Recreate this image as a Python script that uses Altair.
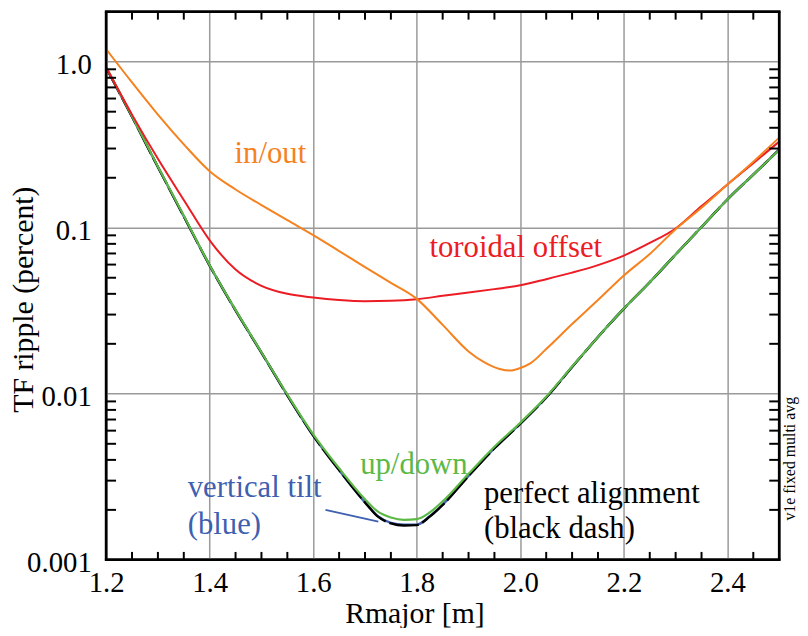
import altair as alt
import pandas as pd

# ---------------- data ----------------
r_fine = [1.20, 1.25, 1.30, 1.35, 1.40, 1.45, 1.50, 1.55, 1.60, 1.65, 1.70, 1.725,
          1.75, 1.775, 1.80, 1.825, 1.85, 1.90, 1.95, 2.00, 2.05, 2.10, 2.15, 2.20,
          2.25, 2.30, 2.35, 2.40, 2.45, 2.50]
perfect = [0.92, 0.466, 0.232, 0.117, 0.0592, 0.0318, 0.0177, 0.0098, 0.0056, 0.00347,
           0.00222, 0.00182, 0.00166, 0.00161, 0.00162, 0.00182, 0.00214, 0.0032, 0.0047,
           0.0066, 0.0095, 0.0145, 0.022, 0.0326, 0.047, 0.069, 0.101, 0.148, 0.209, 0.295]
vertical_tilt = [0.92, 0.466, 0.232, 0.117, 0.0592, 0.0318, 0.0177, 0.0098, 0.0056, 0.00347,
                 0.00222, 0.00183, 0.00167, 0.00163, 0.00163, 0.00183, 0.00215, 0.0032, 0.0047,
                 0.0066, 0.0095, 0.0145, 0.022, 0.0326, 0.047, 0.069, 0.101, 0.148, 0.209, 0.295]
up_down = [0.93, 0.47, 0.234, 0.118, 0.0595, 0.032, 0.0178, 0.0099, 0.0057, 0.00356,
           0.00232, 0.00195, 0.00180, 0.00174, 0.00176, 0.00193, 0.00225, 0.0033, 0.0048,
           0.0067, 0.0096, 0.0146, 0.022, 0.0326, 0.047, 0.069, 0.101, 0.148, 0.209, 0.294]

r_coarse = [1.20, 1.25, 1.30, 1.35, 1.40, 1.45, 1.50, 1.55, 1.60, 1.65, 1.70, 1.75, 1.80,
            1.85, 1.90, 1.95, 2.00, 2.05, 2.10, 2.15, 2.20, 2.25, 2.30, 2.35, 2.40, 2.45, 2.50]
toroidal = [0.925, 0.48, 0.26, 0.147, 0.084, 0.056, 0.0447, 0.040, 0.038, 0.0367, 0.0361,
            0.0363, 0.0371, 0.0389, 0.0407, 0.0427, 0.045, 0.049, 0.0537, 0.0596, 0.068,
            0.081, 0.099, 0.135, 0.182, 0.245, 0.33]

r_inout = [1.20, 1.25, 1.30, 1.35, 1.40, 1.45, 1.50, 1.55, 1.60, 1.65, 1.70, 1.75, 1.80,
           1.85, 1.90, 1.93, 1.96, 1.98, 2.00, 2.02, 2.05, 2.10, 2.15, 2.20, 2.25, 2.30,
           2.35, 2.40, 2.45, 2.50]
in_out = [1.19, 0.75, 0.48, 0.318, 0.219, 0.170, 0.137, 0.111, 0.0902, 0.0724, 0.058,
          0.0466, 0.0373, 0.026, 0.018, 0.0155, 0.0141, 0.0138, 0.0143, 0.0153, 0.0186,
          0.0263, 0.0367, 0.0516, 0.0695, 0.098, 0.132, 0.182, 0.25, 0.349]

x_major = [1.2, 1.4, 1.6, 1.8, 2.0, 2.2, 2.4]
x_minor = [1.25, 1.30, 1.35, 1.45, 1.50, 1.55, 1.65, 1.70, 1.75, 1.85, 1.90, 1.95,
           2.05, 2.10, 2.15, 2.25, 2.30, 2.35, 2.45]
y_major = [0.001, 0.01, 0.1, 1.0]
y_minor = [0.002, 0.003, 0.004, 0.005, 0.006, 0.007, 0.008, 0.009,
           0.02, 0.03, 0.04, 0.05, 0.06, 0.07, 0.08, 0.09,
           0.2, 0.3, 0.4, 0.5, 0.6, 0.7, 0.8, 0.9]

labels = ["in/out", "toroidal offset", "up/down", "vertical tilt", "(blue)",
          "perfect alignment", "(black dash)"]
label_r = [1.448, 1.8245, 1.6906, 1.3575, 1.3575, 1.9298, 1.9298]
label_v = [0.245, 0.0664, 0.0033, 0.00239, 0.00143, 0.00219, 0.00135]

ORANGE = "#F5821F"
RED = "#EC1C24"
GREEN = "#5CB946"
BLUE = "#3F5FB0"
BLACK = "#000000"
label_colors = [ORANGE, RED, GREEN, BLUE, BLUE, BLACK, BLACK]

pointer_r = [1.6236, 1.7258]
pointer_v = [0.0020, 0.0017]

FONT = "Liberation Serif"
W, H = 679, 553

# ---------------- frames ----------------
def series(rs, vs):
    return pd.DataFrame({"r": rs, "v": vs})

df_perfect = series(r_fine, perfect)
df_tilt = series(r_fine, vertical_tilt)
df_updown = series(r_fine, up_down)
df_tor = series(r_coarse, toroidal)
df_inout = series(r_inout, in_out)

x_scale = alt.Scale(domain=[1.2, 2.5], nice=False, zero=False)
y_scale = alt.Scale(type="log", domain=[0.001, 2.0], nice=False)

x_axis = alt.Axis(values=x_major, labelExpr="format(datum.value, '.1f')",
                  grid=True, gridColor="#9a9a9a", gridWidth=1.5, ticks=False,
                  domain=False, labelFont=FONT, labelFontSize=29, labelColor="black",
                  labelPadding=32, labelBaseline="alphabetic", labelFlush=False,
                  labelOverlap=False, title="Rmajor [m]", titleFont=FONT,
                  titleFontSize=30, titleFontWeight="normal", titleColor="black",
                  titleX=311, titleY=63, titleBaseline="alphabetic",
                  titleAlign="center", titleLimit=400)
y_axis = alt.Axis(values=y_major,
                  labelExpr="datum.value == 1 ? '1.0' : format(datum.value, '~g')",
                  grid=True, gridColor="#9a9a9a", gridWidth=1.5, ticks=False,
                  domain=False, labelFont=FONT, labelFontSize=29, labelColor="black",
                  labelPadding=15, labelBaseline="middle", labelOffset=3,
                  labelFlush=False, labelOverlap=False,
                  title="TF ripple (percent)", titleFont=FONT, titleFontSize=30,
                  titleFontWeight="normal", titleColor="black", titleX=-74, titleY=290,
                  titleBaseline="alphabetic", titleAlign="center", titleAngle=270,
                  titleLimit=400)

def line(df, color, width, interp="monotone", dash=None, with_axes=False):
    kw = dict(color=color, strokeWidth=width, interpolate=interp, clip=True)
    if dash:
        kw["strokeDash"] = dash
    x = alt.X("r:Q", scale=x_scale, axis=x_axis) if with_axes else alt.X("r:Q")
    y = alt.Y("v:Q", scale=y_scale, axis=y_axis) if with_axes else alt.Y("v:Q")
    return alt.Chart(df).mark_line(**kw).encode(x=x, y=y)

l_tilt = line(df_tilt, BLUE, 2.4, with_axes=True)
l_perfect = line(df_perfect, BLACK, 2.4, dash=[30, 4])
l_updown = line(df_updown, GREEN, 2.2)
l_tor = line(df_tor, RED, 2.0)
l_inout = line(df_inout, ORANGE, 2.0)

# minor ticks (inside, all four sides)
xt = pd.DataFrame({"r": x_minor})
yt = pd.DataFrame({"v": y_minor})
tick_bottom = alt.Chart(xt).mark_rule(color="black", strokeWidth=2).encode(
    x="r:Q", y=alt.value(H), y2=alt.value(H - 8))
tick_top = alt.Chart(xt).mark_rule(color="black", strokeWidth=2).encode(
    x="r:Q", y=alt.value(0), y2=alt.value(8))
tick_left = alt.Chart(yt).mark_rule(color="black", strokeWidth=2).encode(
    y="v:Q", x=alt.value(0), x2=alt.value(10))
tick_right = alt.Chart(yt).mark_rule(color="black", strokeWidth=2).encode(
    y="v:Q", x=alt.value(W), x2=alt.value(W - 10))

# plot frame
frame_h = alt.Chart(pd.DataFrame({"k": [0, 1]})).mark_rule(
    color="black", strokeWidth=2.5).encode(
    x=alt.value(-1.25), x2=alt.value(W + 1.25),
    y=alt.YValue(expr="datum.k * height") if False else alt.value(0))
frame_top = alt.Chart(pd.DataFrame({"k": [0]})).mark_rule(
    color="black", strokeWidth=2.5).encode(
    x=alt.value(-1.25), x2=alt.value(W + 1.25), y=alt.value(0))
frame_bottom = alt.Chart(pd.DataFrame({"k": [0]})).mark_rule(
    color="black", strokeWidth=2.5).encode(
    x=alt.value(-1.25), x2=alt.value(W + 1.25), y=alt.value(H))
frame_left = alt.Chart(pd.DataFrame({"k": [0]})).mark_rule(
    color="black", strokeWidth=2.5).encode(
    x=alt.value(0), y=alt.value(0), y2=alt.value(H))
frame_right = alt.Chart(pd.DataFrame({"k": [0]})).mark_rule(
    color="black", strokeWidth=2.5).encode(
    x=alt.value(W), y=alt.value(0), y2=alt.value(H))

# annotations
ann = pd.DataFrame({"r": label_r, "v": label_v, "text": labels, "c": label_colors})
texts = alt.Chart(ann).mark_text(font=FONT, fontSize=31, align="left",
                                 baseline="alphabetic").encode(
    x="r:Q", y="v:Q", text="text:N", color=alt.Color("c:N", scale=None))

ptr = pd.DataFrame({"r": [pointer_r[0]], "v": [pointer_v[0]],
                    "r2": [pointer_r[1]], "v2": [pointer_v[1]]})
pointer = alt.Chart(ptr).mark_rule(color=BLUE, strokeWidth=2).encode(
    x="r:Q", y="v:Q", x2="r2:Q", y2="v2:Q")

side = alt.Chart(pd.DataFrame({"t": ["v1e  fixed  multi  avg"]})).mark_text(
    font=FONT, fontSize=16, angle=270, align="center", baseline="middle",
    color="black").encode(x=alt.value(W + 11), y=alt.value(451), text="t:N")

chart = alt.layer(
    l_tilt, l_perfect, l_updown, l_tor, l_inout,
    tick_bottom, tick_top, tick_left, tick_right,
    frame_top, frame_bottom, frame_left, frame_right,
    pointer, texts, side
).properties(
    width=W, height=H,
    padding={"left": 99, "top": 1, "right": 21, "bottom": 66},
    autosize=alt.AutoSizeParams(type="none")
).configure(
    font=FONT
).configure_view(
    stroke="black", strokeWidth=2.5
)

chart.save("out.html", embed_options={"renderer": "svg", "actions": False})
